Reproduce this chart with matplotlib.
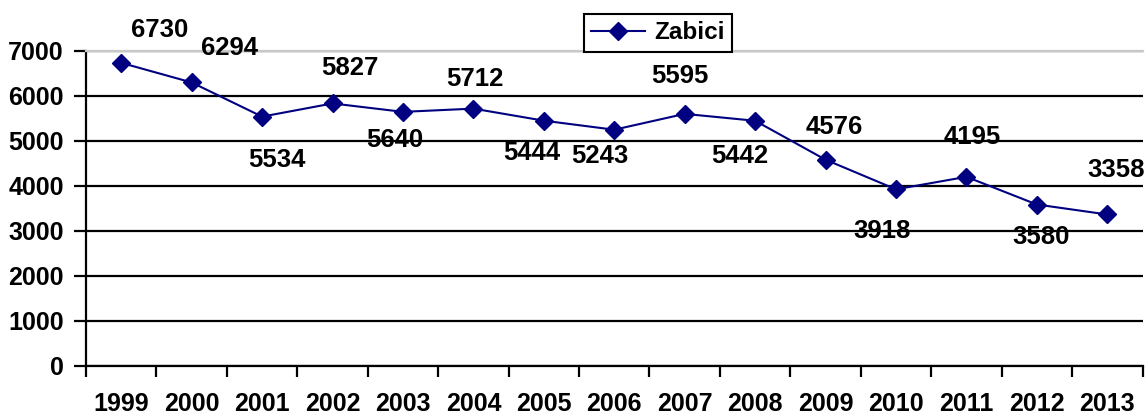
import matplotlib
matplotlib.use("Agg")
import matplotlib.pyplot as plt
from matplotlib.ticker import FixedLocator, NullFormatter

plt.rcParams['font.family'] = ['Liberation Sans', 'DejaVu Sans']
plt.rcParams['font.weight'] = 'bold'

years = ['1999', '2000', '2001', '2002', '2003', '2004', '2005', '2006',
         '2007', '2008', '2009', '2010', '2011', '2012', '2013']
zabici = [6730, 6294, 5534, 5827, 5640, 5712, 5444, 5243,
          5595, 5442, 4576, 3918, 4195, 3580, 3358]
series_name = 'Zabici'

# label offsets in pixels (dx, dy up-positive)
label_dx = [38, 38, 15, 17, -8, 1, -12, -14, -5, -15, 9, -14, 6, 4, 9]
label_dy = [33, 34, -43, 35, -28, 30, -32, -26, 38, -35, 33, -42, 40, -32, 44]

fig = plt.figure(figsize=(11.46, 4.15), dpi=100)
ax = fig.add_axes([86/1146, 1-365.5/415, (1142.5-86)/1146, (365.5-50.7)/415])

x = list(range(len(years)))
navy = '#000080'
ax.plot(x, zabici, color=navy, lw=1.5, marker='D', markersize=9,
        markerfacecolor=navy, markeredgecolor=navy, label=series_name, zorder=4)

for xi, v, dx, dy in zip(x, zabici, label_dx, label_dy):
    ax.annotate(str(v), (xi, v), xytext=(dx, dy), textcoords='offset pixels',
                ha='center', va='center', fontsize=18.5, fontweight='bold',
                color='black', zorder=5)

ax.set_xlim(-0.5, len(years) - 0.5)
ax.set_ylim(0, 7000)
ax.set_yticks(range(0, 7001, 1000))
ax.yaxis.grid(True, color='black', lw=1.6)
ax.set_axisbelow(True)

ax.xaxis.set_major_locator(FixedLocator(x))
ax.set_xticklabels(years)
ax.xaxis.set_minor_locator(FixedLocator([i - 0.5 for i in range(len(years) + 1)]))
ax.xaxis.set_minor_formatter(NullFormatter())
ax.tick_params(axis='x', which='major', length=0, pad=19, labelsize=18)
ax.tick_params(axis='x', which='minor', length=8, width=1.6, direction='out', color='black')
ax.tick_params(axis='y', which='major', length=9, width=1.6, direction='out', pad=7, labelsize=18)
for lab in ax.get_xticklabels() + ax.get_yticklabels():
    lab.set_fontweight('bold')

ax.spines['left'].set_linewidth(1.6)
ax.spines['bottom'].set_linewidth(1.6)
ax.spines['top'].set_color('#c8c8c8')
ax.spines['top'].set_linewidth(1.6)
ax.spines['right'].set_visible(False)

leg = ax.legend(loc='upper center', bbox_to_anchor=(658/1146, 1-14/415),
                bbox_transform=fig.transFigure, fontsize=17.5, frameon=True,
                fancybox=False, edgecolor='black', framealpha=1,
                handlelength=2.2, borderpad=0.3, handletextpad=0.4,
                borderaxespad=0)
leg.get_frame().set_linewidth(1.5)
for t in leg.get_texts():
    t.set_fontweight('bold')
leg.set_zorder(10)

fig.savefig('out.png', dpi=100)
